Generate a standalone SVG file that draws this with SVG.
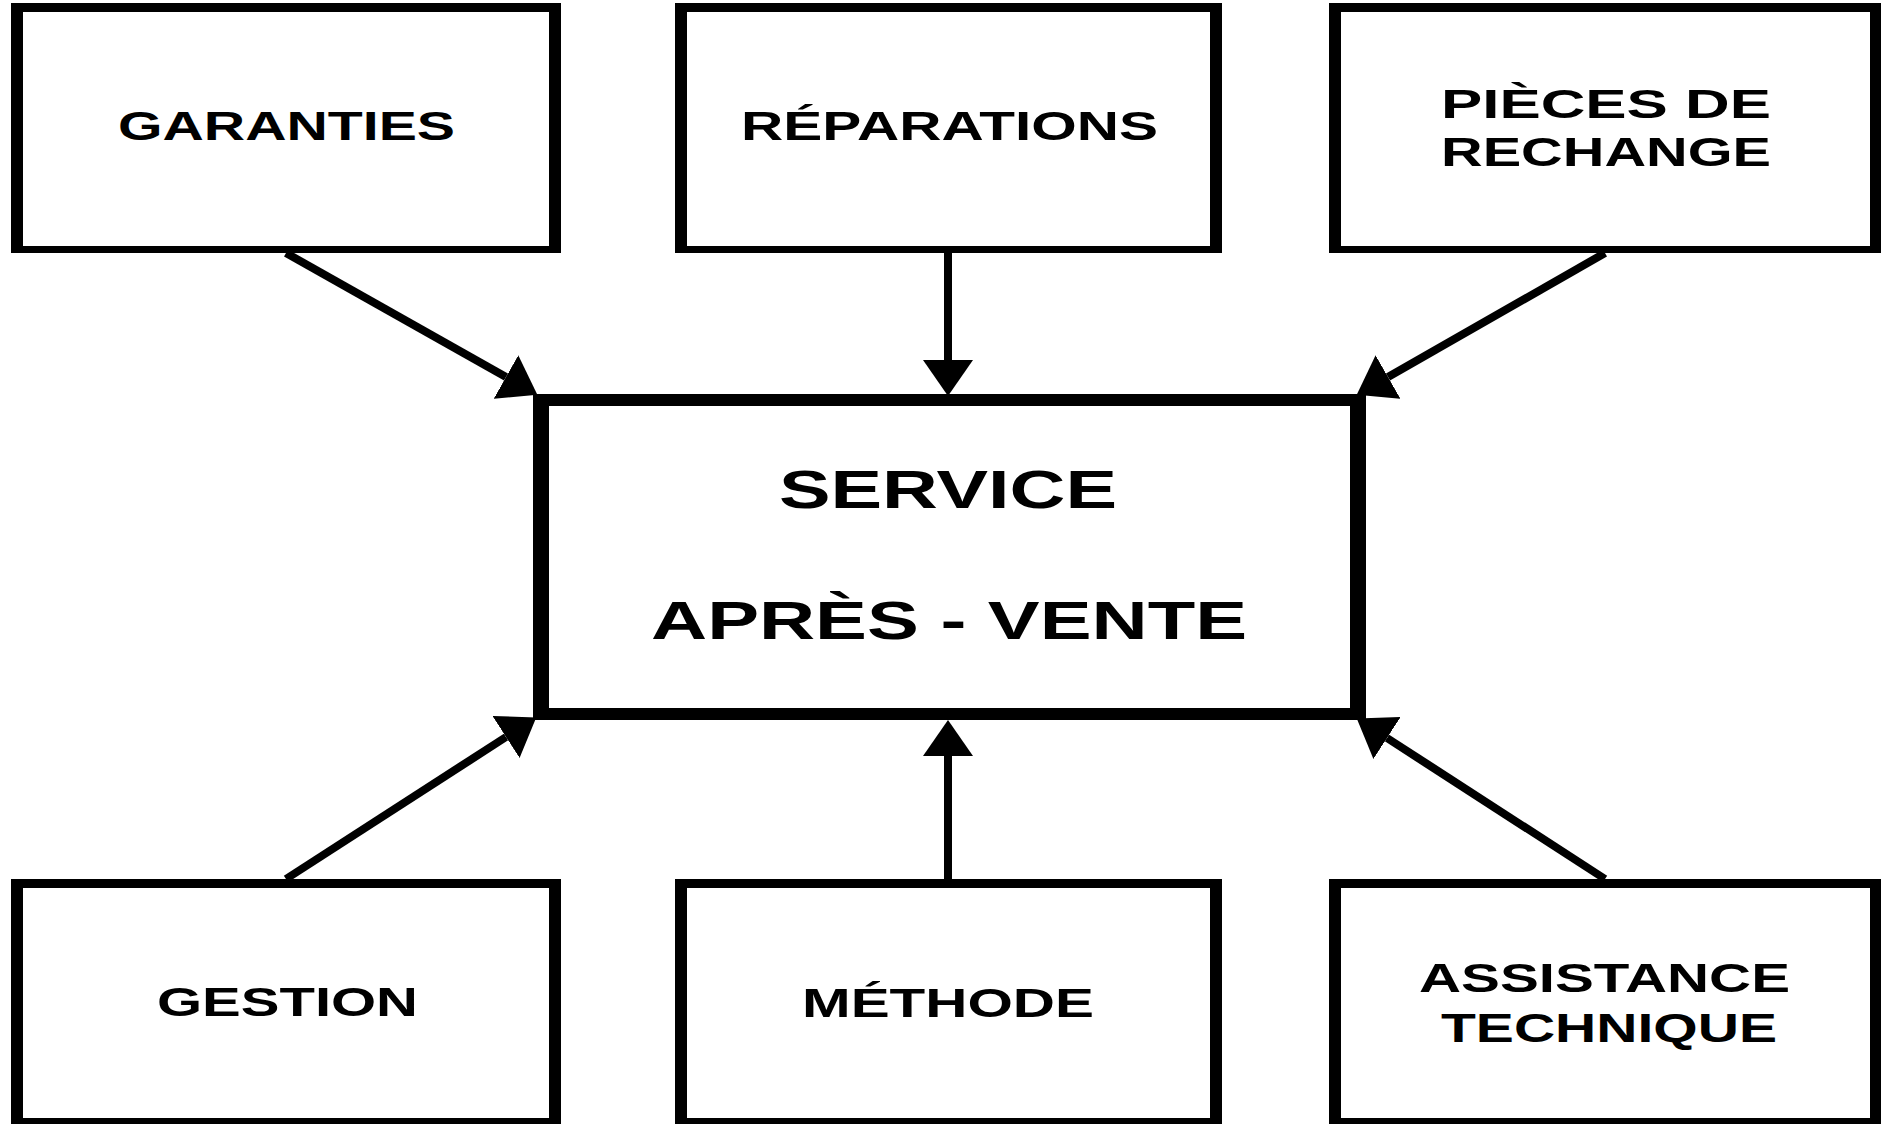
<svg xmlns="http://www.w3.org/2000/svg" width="1882" height="1124" viewBox="0 0 1882 1124">
  <style>
    .frame { fill: #000; }
    .fill { fill: #fff; }
    .lbl { font-family: "Liberation Sans", Arial, sans-serif; font-weight: bold; font-size: 40px; fill: #000; }
    .big { font-size: 53px; }
    .conn { stroke: #000; stroke-width: 8; fill: none; marker-end: url(#arr); }
  </style>
  <defs>
    <marker id="arr" markerUnits="userSpaceOnUse" viewBox="0 0 36 50" refX="0" refY="25" markerWidth="36" markerHeight="50" orient="auto">
      <path d="M0,0 L36,25 L0,50 Z" fill="#000"/>
    </marker>
  </defs>
  <rect width="1882" height="1124" fill="#fff"/>

  <g id="connectors">
    <path class="conn" d="M286,253 L506,377"/>
    <path class="conn" d="M948,253 L948,360"/>
    <path class="conn" d="M1605,253 L1388,377"/>
    <path class="conn" d="M286,879 L506,737"/>
    <path class="conn" d="M948,879 L948,756"/>
    <path class="conn" d="M1605,879 L1387,738"/>
  </g>

  <g id="garanties">
    <rect class="frame" x="11" y="3" width="550" height="250"/>
    <rect class="fill" x="23" y="12" width="526" height="234"/>
    <text class="lbl" x="118" y="140" textLength="337" lengthAdjust="spacingAndGlyphs">GARANTIES</text>
  </g>
  <g id="reparations">
    <rect class="frame" x="675" y="3" width="547" height="250"/>
    <rect class="fill" x="687" y="12" width="523" height="234"/>
    <text class="lbl" x="741" y="140" textLength="417" lengthAdjust="spacingAndGlyphs">RÉPARATIONS</text>
  </g>
  <g id="pieces">
    <rect class="frame" x="1329" y="3" width="552" height="250"/>
    <rect class="fill" x="1341" y="12" width="529" height="234"/>
    <text class="lbl" x="1441" y="118" textLength="330" lengthAdjust="spacingAndGlyphs">PIÈCES DE</text>
    <text class="lbl" x="1441" y="166" textLength="330" lengthAdjust="spacingAndGlyphs">RECHANGE</text>
  </g>
  <g id="service">
    <rect class="frame" x="533" y="394" width="833" height="326"/>
    <rect class="fill" x="549" y="406" width="801" height="302"/>
    <text class="lbl big" x="779" y="508" textLength="338" lengthAdjust="spacingAndGlyphs">SERVICE</text>
    <text class="lbl big" x="651" y="639" textLength="596" lengthAdjust="spacingAndGlyphs">APRÈS - VENTE</text>
  </g>
  <g id="gestion">
    <rect class="frame" x="11" y="879" width="550" height="260"/>
    <rect class="fill" x="23" y="888" width="526" height="230"/>
    <text class="lbl" x="157" y="1016" textLength="261" lengthAdjust="spacingAndGlyphs">GESTION</text>
  </g>
  <g id="methode">
    <rect class="frame" x="675" y="879" width="547" height="260"/>
    <rect class="fill" x="687" y="888" width="523" height="230"/>
    <text class="lbl" x="802" y="1017" textLength="292" lengthAdjust="spacingAndGlyphs">MÉTHODE</text>
  </g>
  <g id="assistance">
    <rect class="frame" x="1329" y="879" width="552" height="260"/>
    <rect class="fill" x="1341" y="888" width="529" height="230"/>
    <text class="lbl" x="1419" y="992" textLength="371" lengthAdjust="spacingAndGlyphs">ASSISTANCE</text>
    <text class="lbl" x="1441" y="1042" textLength="336" lengthAdjust="spacingAndGlyphs">TECHNIQUE</text>
  </g>
</svg>
